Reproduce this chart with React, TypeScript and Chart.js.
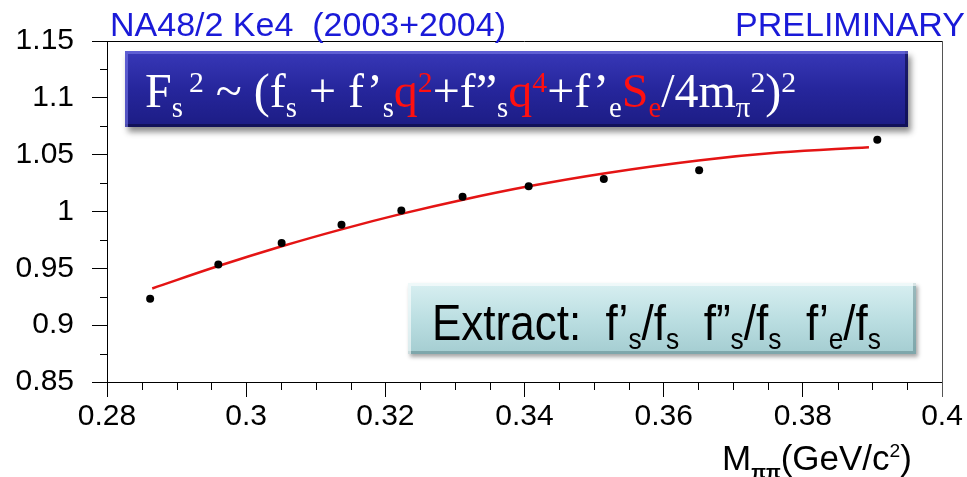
import React, { useEffect, useRef } from 'react';
import { Chart, registerables } from 'chart.js';

Chart.register(...registerables);

// ---- data ----
const pointMass = [0.2862, 0.296, 0.3051, 0.3137, 0.3223, 0.3311, 0.3406, 0.3514, 0.3651, 0.3907];
const pointRatio = [0.9232, 0.9534, 0.9723, 0.9884, 1.0008, 1.0129, 1.0222, 1.0287, 1.0363, 1.0631];
const fitMass = [0.2865, 0.296, 0.305, 0.3137, 0.3223, 0.331, 0.3406, 0.3514, 0.365, 0.3765, 0.3895];
const fitRatio = [0.9323, 0.952, 0.9692, 0.9843, 0.9979, 1.0102, 1.0222, 1.0335, 1.0449, 1.0518, 1.0566];
const xRange = [0.28, 0.4];
const yRange = [0.85, 1.15];
const xMajorStep = 0.02;
const xMinorStep = 0.005;
const yMajorStep = 0.05;
const yMinorStep = 0.025;
const titleLeft = 'NA48/2 Ke4  (2003+2004)';
const titleRight = 'PRELIMINARY';

const fmt = (v: number) => String(Number(Number(v).toFixed(3)));

const framePlugin = {
  id: 'framePlugin',
  afterDraw(chart: any) {
    const { ctx, chartArea: a, scales } = chart;
    const xs = scales.x;
    const ys = scales.y;
    ctx.save();
    ctx.lineWidth = 1;
    ctx.strokeStyle = '#000';
    ctx.beginPath();
    const nx = Math.round((xRange[1] - xRange[0]) / xMinorStep);
    const xr = Math.round(xMajorStep / xMinorStep);
    for (let i = 1; i < nx; i++) {
      if (i % xr === 0) continue;
      const px = Math.round(xs.getPixelForValue(xRange[0] + i * xMinorStep)) + 0.5;
      ctx.moveTo(px, a.bottom);
      ctx.lineTo(px, a.bottom + 8);
    }
    const ny = Math.round((yRange[1] - yRange[0]) / yMinorStep);
    const yr = Math.round(yMajorStep / yMinorStep);
    for (let i = 1; i < ny; i++) {
      if (i % yr === 0) continue;
      const py = Math.round(ys.getPixelForValue(yRange[0] + i * yMinorStep)) + 0.5;
      ctx.moveTo(a.left - 7, py);
      ctx.lineTo(a.left, py);
    }
    const top = Math.round(a.top) + 0.5;
    ctx.moveTo(a.left, top);
    ctx.lineTo(a.right, top);
    ctx.stroke();
    ctx.strokeStyle = '#555';
    ctx.beginPath();
    const r = Math.round(a.right) + 0.5;
    ctx.moveTo(r, a.top);
    ctx.lineTo(r, a.bottom + 15);
    ctx.stroke();
    ctx.restore();
  },
};

const RED = '#ff1010';

const Sub = ({ children, color, size = 0.6, drop = 0.35 }: any) => (
  <span style={{ fontSize: `${size}em`, position: 'relative', top: `${drop}em`, color }}>{children}</span>
);
const Sup = ({ children, color, size = 0.62, rise = 0.52, ml = 0 }: any) => (
  <span style={{ fontSize: `${size}em`, position: 'relative', top: `-${rise}em`, color, marginLeft: ml }}>{children}</span>
);

export default function App() {
  const ref = useRef<HTMLCanvasElement>(null);

  useEffect(() => {
    if (!ref.current) return;
    const chart = new Chart(ref.current, {
      type: 'scatter',
      data: {
        datasets: [
          {
            label: 'data',
            data: pointMass.map((x, i) => ({ x, y: pointRatio[i] })),
            showLine: false,
            pointRadius: 4,
            pointBackgroundColor: '#000',
            pointBorderColor: '#000',
            pointBorderWidth: 0,
          },
          {
            label: 'fit',
            data: fitMass.map((x, i) => ({ x, y: fitRatio[i] })),
            showLine: true,
            pointRadius: 0,
            borderColor: '#e41414',
            borderWidth: 2.5,
            tension: 0.4,
          },
        ],
      },
      options: {
        responsive: false,
        animation: false,
        events: [],
        layout: { padding: { top: 41, right: 25, left: 0, bottom: 0 } },
        plugins: {
          legend: { display: false },
          title: { display: false },
          tooltip: { enabled: false },
        },
        scales: {
          x: {
            type: 'linear',
            min: xRange[0],
            max: xRange[1],
            afterFit: (s: any) => {
              s.height = 95;
            },
            grid: {
              display: true,
              drawOnChartArea: false,
              drawTicks: true,
              tickLength: 15,
              color: '#000',
              lineWidth: 1,
            },
            border: { display: true, color: '#000', width: 1 },
            ticks: {
              stepSize: xMajorStep,
              color: '#000',
              padding: 2,
              maxRotation: 0,
              autoSkip: false,
              font: { family: '"Liberation Sans", Arial, sans-serif', size: 30 },
              callback: (v: any) => fmt(v),
            },
          },
          y: {
            type: 'linear',
            min: yRange[0],
            max: yRange[1],
            afterFit: (s: any) => {
              s.width = 107;
            },
            grid: {
              display: true,
              drawOnChartArea: false,
              drawTicks: true,
              tickLength: 15,
              color: '#000',
              lineWidth: 1,
            },
            border: { display: true, color: '#000', width: 1 },
            ticks: {
              stepSize: yMajorStep,
              color: '#000',
              padding: 18,
              autoSkip: false,
              font: { family: '"Liberation Sans", Arial, sans-serif', size: 30 },
              callback: (v: any) => fmt(v),
            },
          },
        },
      },
      plugins: [framePlugin],
    } as any);
    return () => chart.destroy();
  }, []);

  const blue = '#1a1ad8';
  return (
    <div style={{ position: 'absolute', left: 0, top: 0, width: 967, height: 477, background: '#fff', overflow: 'hidden' }}>
      <canvas ref={ref} width={967} height={477} style={{ position: 'absolute', left: 0, top: 0 }} />

      <div style={{ position: 'absolute', left: 110, top: 7, font: '34px "Liberation Sans", Arial, sans-serif', lineHeight: '34px', color: blue, whiteSpace: 'pre' }}>
        {titleLeft}
      </div>
      <div style={{ position: 'absolute', right: 2, top: 7, font: '34px "Liberation Sans", Arial, sans-serif', lineHeight: '34px', color: blue, whiteSpace: 'pre' }}>
        {titleRight}
      </div>

      {/* formula box */}
      <div
        style={{
          position: 'absolute',
          left: 125,
          top: 51,
          width: 783,
          height: 76,
          background: 'linear-gradient(#3838b8, #26269c 50%, #1c1c84)',
          boxShadow: '3px 5px 6px rgba(0,0,0,0.45), inset 3px 3px 0 rgba(120,120,230,0.6), inset -3px -3px 0 rgba(10,10,60,0.6)',
        }}
      />
      <div
        style={{
          position: 'absolute',
          left: 145,
          top: 67,
          font: '48px "Liberation Serif", "Times New Roman", serif',
          lineHeight: '48px',
          color: '#fff',
          whiteSpace: 'nowrap',
        }}
      >
        F<Sub>s</Sub>
        <Sup ml={6}>2</Sup> ~ (f<Sub>s</Sub> + f’<Sub>s</Sub>
        <span style={{ color: RED }}>q</span>
        <Sup color={RED}>2</Sup>+f”<Sub>s</Sub>
        <span style={{ color: RED }}>q</span>
        <Sup color={RED}>4</Sup>+f’<Sub>e</Sub>
        <span style={{ color: RED }}>S</span>
        <Sub color={RED}>e</Sub>/4m<Sub>π</Sub>
        <Sup>2</Sup>)<Sup>2</Sup>
      </div>

      {/* extract box */}
      <div
        style={{
          position: 'absolute',
          left: 408,
          top: 283,
          width: 508,
          height: 71,
          background: 'linear-gradient(#d8eff1, #bcdfe2 50%, #a4cdd1)',
          boxShadow: '2px 3px 4px rgba(0,0,0,0.35), inset 3px 3px 0 rgba(255,255,255,0.6), inset -3px -3px 0 rgba(80,120,125,0.45)',
        }}
      />
      <div
        style={{
          position: 'absolute',
          left: 432,
          top: 298,
          font: '50px "Liberation Sans", Arial, sans-serif',
          lineHeight: '50px',
          color: '#000',
          whiteSpace: 'pre',
          transformOrigin: 'left top',
          transform: 'scaleX(0.88)',
        }}
      >
        Extract:  f’<Sub drop={0.3}>s</Sub>/f<Sub drop={0.3}>s</Sub>  f”<Sub drop={0.3}>s</Sub>/f<Sub drop={0.3}>s</Sub>  f’<Sub drop={0.3}>e</Sub>/f<Sub drop={0.3}>s</Sub>
      </div>

      {/* x axis title */}
      <div
        style={{
          position: 'absolute',
          left: 722,
          top: 440,
          font: '35px "Liberation Sans", Arial, sans-serif',
          lineHeight: '35px',
          color: '#000',
          whiteSpace: 'nowrap',
        }}
      >
        M<Sub size={0.55} drop={0.4}><b>ππ</b></Sub>(GeV/c<Sup size={0.55} rise={0.7}>2</Sup>)
      </div>
    </div>
  );
}
